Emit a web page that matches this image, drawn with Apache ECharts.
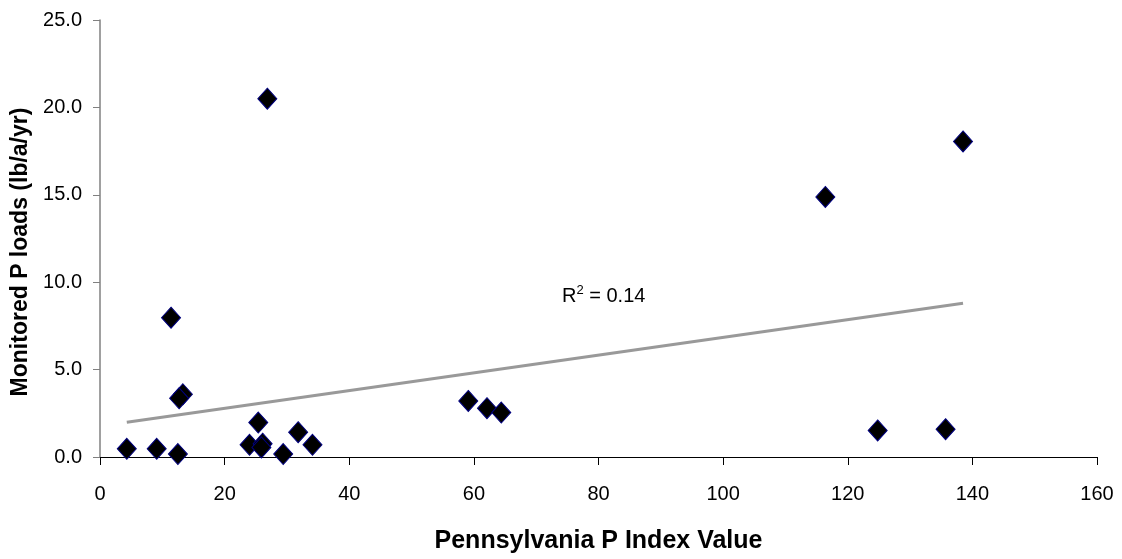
<!DOCTYPE html>
<html>
<head>
<meta charset="utf-8">
<script src="https://cdn.jsdelivr.net/npm/echarts@6/dist/echarts.min.js"></script>
<style>
html,body{margin:0;padding:0;background:#fff;}
#chart{width:1122px;height:559px;}
</style>
</head>
<body>
<div id="chart"></div>
<script>
// Pennsylvania P Index value (x) vs monitored P loads (lb/a/yr) (y)
const pIndex = [4.3, 9.1, 12.5, 11.4, 13.3, 12.7, 25.4, 24.0, 26.1, 25.9, 29.4, 31.8, 34.1, 26.85, 59.1, 62.1, 64.4, 116.4, 124.8, 135.7, 138.5];
const pLoads = [0.47, 0.47, 0.17, 7.97, 3.59, 3.36, 1.97, 0.70, 0.76, 0.55, 0.17, 1.42, 0.70, 20.5, 3.21, 2.79, 2.54, 14.88, 1.52, 1.59, 18.05];
const xAxisName = 'Pennsylvania P Index Value';
const yAxisName = 'Monitored P loads (lb/a/yr)';
const r2Text = '0.14';

const FONT = '"Liberation Sans", Arial, sans-serif';

// linear regression trendline
const n = pIndex.length;
const mx = pIndex.reduce((a, b) => a + b, 0) / n;
const my = pLoads.reduce((a, b) => a + b, 0) / n;
let sxy = 0, sxx = 0;
for (let i = 0; i < n; i++) { sxy += (pIndex[i] - mx) * (pLoads[i] - my); sxx += (pIndex[i] - mx) ** 2; }
const slope = sxy / sxx;
const intercept = my - slope * mx;
const xMin = Math.min(...pIndex), xMax = Math.max(...pIndex);
const trend = [[xMin, intercept + slope * xMin], [xMax, intercept + slope * xMax]];

const chart = echarts.init(document.getElementById('chart'), null, {renderer: 'canvas'});
chart.setOption({
  animation: false,
  backgroundColor: '#fff',
  grid: {left: 100, right: 25, top: 20, bottom: 100, containLabel: false},
  xAxis: {
    type: 'value', min: 0, max: 160, interval: 20,
    name: xAxisName, nameLocation: 'middle', nameGap: 72,
    nameTextStyle: {fontFamily: FONT, fontSize: 25, fontWeight: 'bold', color: '#000'},
    axisLine: {show: true, onZero: false, lineStyle: {color: '#000', width: 1}},
    axisTick: {show: true, inside: false, length: 8, lineStyle: {color: '#000'}},
    axisLabel: {fontFamily: FONT, fontSize: 20, color: '#000', margin: 27},
    splitLine: {show: false}
  },
  yAxis: {
    type: 'value', min: 0, max: 25, interval: 5,
    name: yAxisName, nameLocation: 'middle', nameGap: 64, nameRotate: 90,
    nameTextStyle: {fontFamily: FONT, fontSize: 23, fontWeight: 'bold', color: '#000', padding: [0, 27, 0, 0]},
    axisLine: {show: true, onZero: false, lineStyle: {color: '#808080', width: 1.5}},
    axisTick: {show: true, inside: false, length: 7, lineStyle: {color: '#808080'}},
    axisLabel: {fontFamily: FONT, fontSize: 20, color: '#000', margin: 18, formatter: v => v.toFixed(1)},
    splitLine: {show: false}
  },
  graphic: [{
    type: 'text', left: 562, top: 284, z: 100,
    style: {
      text: '{r|R}{s|2}{r| = ' + r2Text + '}',
      rich: {
        r: {fontFamily: FONT, fontSize: 20, fill: '#000', lineHeight: 24},
        s: {fontFamily: FONT, fontSize: 13, fill: '#000', verticalAlign: 'top', lineHeight: 24}
      }
    }
  }],
  series: [
    {
      type: 'line', data: trend, showSymbol: false, z: 1,
      lineStyle: {color: '#999999', width: 3}, silent: true
    },
    {
      type: 'scatter', z: 3,
      data: pIndex.map((x, i) => [x, pLoads[i]]),
      symbol: 'diamond', symbolSize: [19, 21],
      itemStyle: {color: '#000', borderColor: '#000080', borderWidth: 1, opacity: 1}
    }
  ]
});
</script>
</body>
</html>
